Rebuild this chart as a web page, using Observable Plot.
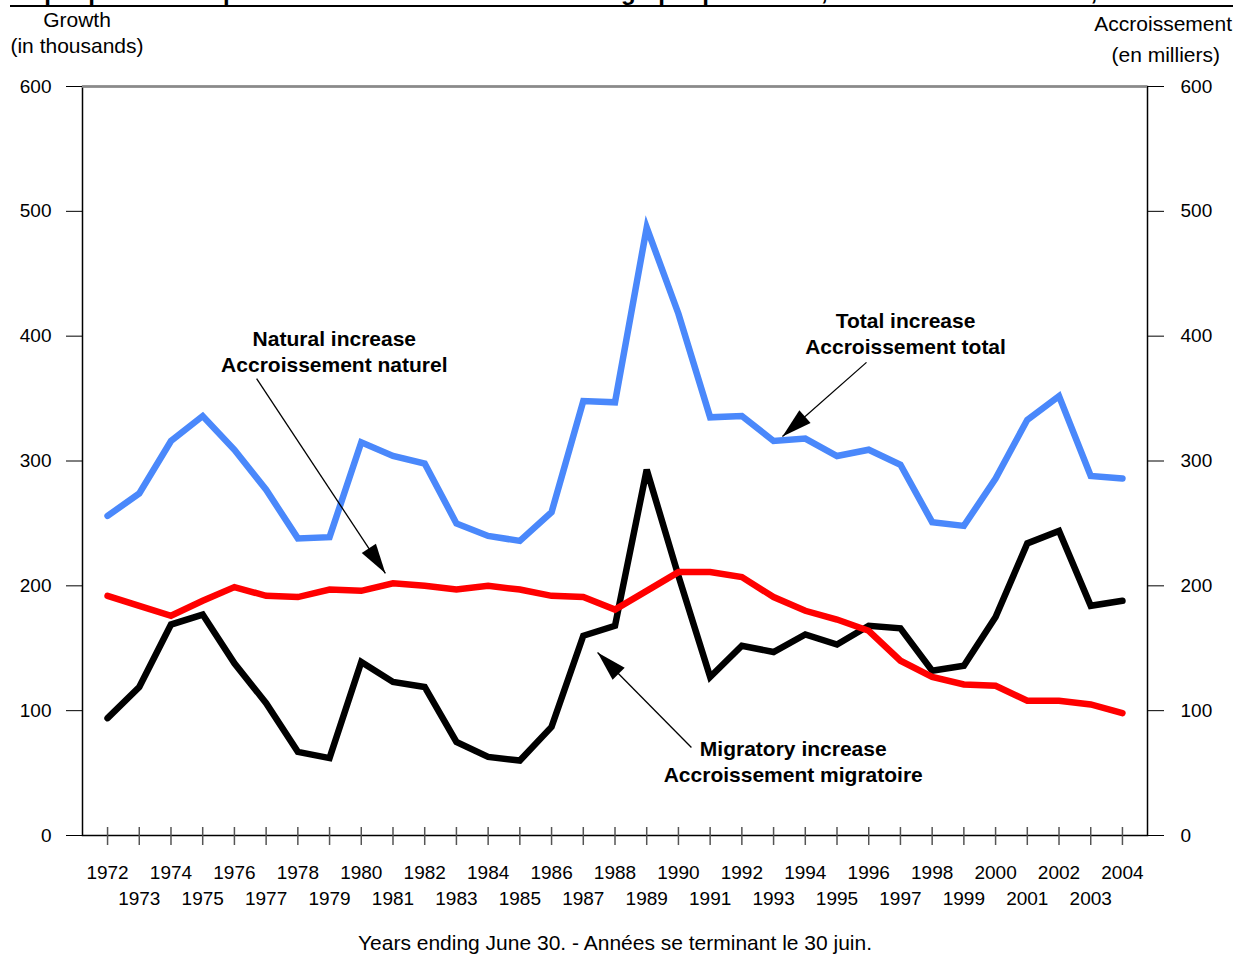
<!DOCTYPE html>
<html>
<head>
<meta charset="utf-8">
<script src="https://cdn.jsdelivr.net/npm/d3@7"></script>
<script src="https://cdn.jsdelivr.net/npm/@observablehq/plot@0.6"></script>
<style>
  body { margin: 0; background: #fff; font-family: "Liberation Sans", Arial, sans-serif; }
  #wrap { position: relative; width: 1243px; height: 954px; overflow: hidden; background: #fff; }
  #chart { position: absolute; left: 0; top: 0; }
  .lbl { position: absolute; font-size: 21px; line-height: 26px; color: #000; white-space: nowrap; }
  #title { position: absolute; left: 3px; top: -20px; font-size: 24px; line-height: 24px; font-weight: bold; white-space: nowrap; color: #000; }
  #rule { position: absolute; left: 10px; top: 5px; width: 1223px; height: 2px; background: #000; }
</style>
</head>
<body>
<div id="wrap">
  <div id="chart"></div>
  <div id="title">Graphique 1.1 Composantes de l'accroissement démographique annuel, 1971-1972 à 2003-2004, Canada</div>
  <div id="rule"></div>
  <div class="lbl" style="left:77px; top:7px; transform:translateX(-50%); text-align:center;">Growth<br>(in thousands)</div>
  <div class="lbl" style="right:11px; top:11px; text-align:right;">Accroissement</div>
  <div class="lbl" style="right:23px; top:42px; text-align:right;">(en milliers)</div>
  <div class="lbl" style="left:615px; top:930px; transform:translateX(-50%); font-size:21px;">Years ending June 30. - Années se terminant le 30 juin.</div>
</div>
<script>
// ---- Data ----
const years = [1972, 1973, 1974, 1975, 1976, 1977, 1978, 1979, 1980, 1981, 1982,
  1983, 1984, 1985, 1986, 1987, 1988, 1989, 1990, 1991, 1992, 1993, 1994, 1995,
  1996, 1997, 1998, 1999, 2000, 2001, 2002, 2003, 2004];

const totalIncrease = [256, 274, 316, 336, 309, 277, 238, 239, 315, 304, 298,
  250, 240, 236, 259, 348, 347, 487, 418, 335, 336, 316, 318, 304,
  309, 297, 251, 248, 286, 333, 352, 288, 286];

const naturalIncrease = [192, 184, 176, 188, 199, 192, 191, 197, 196, 202, 200,
  197, 200, 197, 192, 191, 181, 196, 211, 211, 207, 191, 180, 173,
  164, 140, 127, 121, 120, 108, 108, 105, 98];

const migratoryIncrease = [94, 119, 169, 177, 138, 106, 67, 62, 139, 123, 119,
  75, 63, 60, 87, 160, 168, 293, 208, 127, 152, 147, 161, 153,
  168, 166, 132, 136, 175, 234, 244, 184, 188];

const yTicks = [0, 100, 200, 300, 400, 500, 600];
const evenYearLabels = [1972, 1974, 1976, 1978, 1980, 1982, 1984, 1986, 1988, 1990, 1992, 1994, 1996, 1998, 2000, 2002, 2004];
const oddYearLabels = [1973, 1975, 1977, 1979, 1981, 1983, 1985, 1987, 1989, 1991, 1993, 1995, 1997, 1999, 2001, 2003];

const annotationTexts = ["Natural increase\nAccroissement naturel", "Total increase\nAccroissement total", "Migratory increase\nAccroissement migratoire"];
const annotationX = [1979.15, 1997.16, 1993.62];
const annotationY = [388, 403, 60];

const arrowFromX = [1976.70, 1995.93, 1990.41];
const arrowFromY = [366, 379, 70.5];
const arrowToX = [1980.76, 1993.28, 1987.45];
const arrowToY = [210, 319.7, 146.6];

// ---- Build tables ----
const table = years.map((year, i) => ({
  year, total: totalIncrease[i], natural: naturalIncrease[i], migratory: migratoryIncrease[i]
}));
const annotations = annotationTexts.map((text, i) => ({ text, x: annotationX[i], y: annotationY[i] }));
const arrows = arrowFromX.map((x1, i) => ({ x1, y1: arrowFromY[i], x2: arrowToX[i], y2: arrowToY[i] }));

// ---- Layout ----
const W = 1243, H = 954;
const mTop = 86, mBottom = 119, mLeft = 82, mRight = 96;
const xDomain = [1971.21, 2004.79];
const yDomain = [0, 600];
const sx = d3.scaleLinear().domain(xDomain).range([mLeft, W - mRight]);
const sy = d3.scaleLinear().domain(yDomain).range([H - mBottom, mTop]);
const frameH = H - mTop - mBottom;

const arrowHead = {
  draw(context) {
    context.moveTo(0, 0);
    context.lineTo(8.5, 30);
    context.lineTo(-8.5, 30);
    context.closePath();
  }
};
const headAngle = d => {
  const dx = sx(d.x2) - sx(d.x1);
  const dy = sy(d.y2) - sy(d.y1);
  return Math.atan2(dx, -dy) * 180 / Math.PI;
};

const lineStyle = { strokeWidth: 6.5, strokeLinejoin: "miter", strokeMiterlimit: 4, strokeLinecap: "round" };

const chart = Plot.plot({
  width: W, height: H,
  marginTop: mTop, marginBottom: mBottom, marginLeft: mLeft, marginRight: mRight,
  style: { fontFamily: '"Liberation Sans", Arial, sans-serif', fontSize: "19px", background: "transparent", color: "#000" },
  x: { domain: xDomain, axis: null },
  y: { domain: yDomain, axis: null },
  marks: [
    Plot.frame({ stroke: "#000", strokeWidth: 1.5 }),
    Plot.ruleY([600], { stroke: "#8a8a8a", strokeWidth: 2.5 }),
    Plot.axisY(yTicks, { anchor: "left", tickSize: 16, tickPadding: 15, fontSize: 19, stroke: "#000", label: null }),
    Plot.axisY(yTicks, { anchor: "right", tickSize: 16, tickPadding: 17, fontSize: 19, stroke: "#000", label: null }),
    Plot.ruleX(years, { x: d => d, insetTop: frameH - 8, insetBottom: -10, stroke: "#555", strokeWidth: 1.5 }),
    Plot.text(evenYearLabels, { x: d => d, text: d => String(d), frameAnchor: "bottom", dy: 43, fontSize: 19 }),
    Plot.text(oddYearLabels, { x: d => d, text: d => String(d), frameAnchor: "bottom", dy: 69, fontSize: 19 }),
    Plot.line(table, { x: "year", y: "total", stroke: "#4a88fb", ...lineStyle }),
    Plot.line(table, { x: "year", y: "migratory", stroke: "#000", ...lineStyle }),
    Plot.line(table, { x: "year", y: "natural", stroke: "#ff0000", ...lineStyle }),
    Plot.link(arrows, { x1: "x1", y1: "y1", x2: "x2", y2: "y2", stroke: "#000", strokeWidth: 1.3 }),
    Plot.dot(arrows, { x: "x2", y: "y2", symbol: arrowHead, fill: "#000", stroke: "none", rotate: headAngle }),
    Plot.text(annotations, { x: "x", y: "y", text: "text", fontWeight: "bold", fontSize: 21, lineHeight: 1.24, fill: "#000" })
  ]
});
document.getElementById("chart").appendChild(chart);
</script>
</body>
</html>
